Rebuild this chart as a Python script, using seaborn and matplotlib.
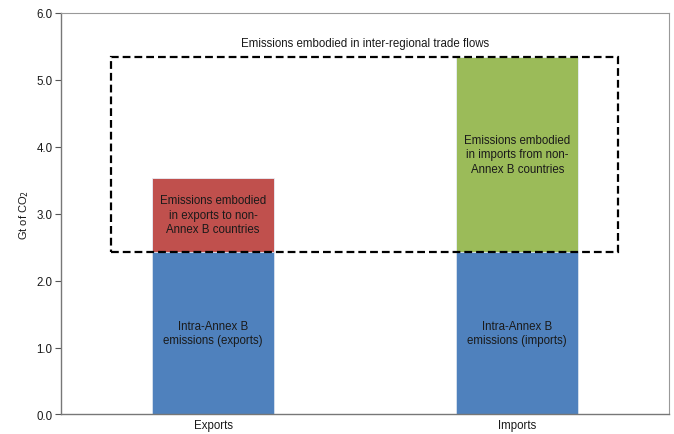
import pandas as pd
import matplotlib.pyplot as plt
import matplotlib.patches as mpatches
import seaborn as sns
import numpy as np

# Dane
kategorie = ["Exports", "Imports"]
intra_annex_b = [2.43, 2.43]
trade_flows = [1.11, 2.91]
etykiety_dol = ["Intra-Annex B\nemissions (exports)", "Intra-Annex B\nemissions (imports)"]
etykiety_gora = ["Emissions embodied\nin exports to non-\nAnnex B countries",
                 "Emissions embodied\nin imports from non-\nAnnex B countries"]
tytul_ramki = "Emissions embodied in inter-regional trade flows"
y_ticks = [0.0, 1.0, 2.0, 3.0, 4.0, 5.0, 6.0]

sns.set_style("white")
plt.rcParams['font.family'] = ['Liberation Sans', 'DejaVu Sans']

df = pd.DataFrame({"kategoria": kategorie, "intra": intra_annex_b, "trade": trade_flows})
df["total"] = df["intra"] + df["trade"]

fig, ax = plt.subplots(figsize=(6.74, 4.35), dpi=100)
fig.subplots_adjust(left=0.0905, right=0.993, top=0.968, bottom=0.045)

# Slupki: najpierw suma (kolor gorny), potem baza na wierzchu
sns.barplot(data=df, x="kategoria", y="total", hue="kategoria",
            palette=["#C0504D", "#9BBB59"], width=0.4, ax=ax, saturation=1,
            edgecolor="#e8eef7", linewidth=0.6, legend=False)
sns.barplot(data=df, x="kategoria", y="intra", color="#4F81BD",
            width=0.4, ax=ax, edgecolor="#dbe5f1", linewidth=0.6, saturation=1)

txt_color = "#1a1a1a"
for i, row in df.iterrows():
    ax.text(i, row["intra"] / 2, etykiety_dol[i], ha="center", va="center",
            fontsize=8.3, color=txt_color, linespacing=1.3)
    ax.text(i, row["intra"] + row["trade"] / 2, etykiety_gora[i], ha="center",
            va="center", fontsize=8.3, color=txt_color, linespacing=1.3)

# Ramka przerywana
dol = df["intra"].max()
gora = df["total"].max()
x0, x1 = -0.335, 1.332
rect = mpatches.Rectangle((x0, dol), x1 - x0, gora - dol, fill=False,
                          edgecolor="black", linewidth=1.6, linestyle=(0, (3.5, 1.8)),
                          zorder=5)
ax.add_patch(rect)
ax.text((x0 + x1) / 2, gora + 0.12, tytul_ramki, ha="center", va="bottom",
        fontsize=8.3, color=txt_color)

ax.set_xlim(-0.5, 1.5)
ax.set_ylim(0, 6)
ax.set_yticks(y_ticks)
ax.set_yticklabels([f"{v:.1f}" for v in y_ticks], fontsize=8.3, color=txt_color)
ax.set_xticks([0, 1])
ax.set_xticklabels(kategorie, fontsize=8.3, color=txt_color)
ax.tick_params(axis="x", length=0, pad=3)
ax.set_xticks([0.5], minor=True)
ax.tick_params(axis="x", which="minor", length=4, width=0.8, color="#555555", direction="out")
ax.tick_params(axis="y", length=4, width=0.8, color="#555555", direction="out", pad=2, left=True)
ax.set_xlabel("")
ax.set_ylabel("Gt of CO$_2$", fontsize=8, color=txt_color, labelpad=4)

for s in ["left", "bottom"]:
    ax.spines[s].set_color("#777777")
    ax.spines[s].set_linewidth(1.0)
for s in ["top", "right"]:
    ax.spines[s].set_color("#999999")
    ax.spines[s].set_linewidth(0.8)

plt.savefig("out.png", dpi=100)
